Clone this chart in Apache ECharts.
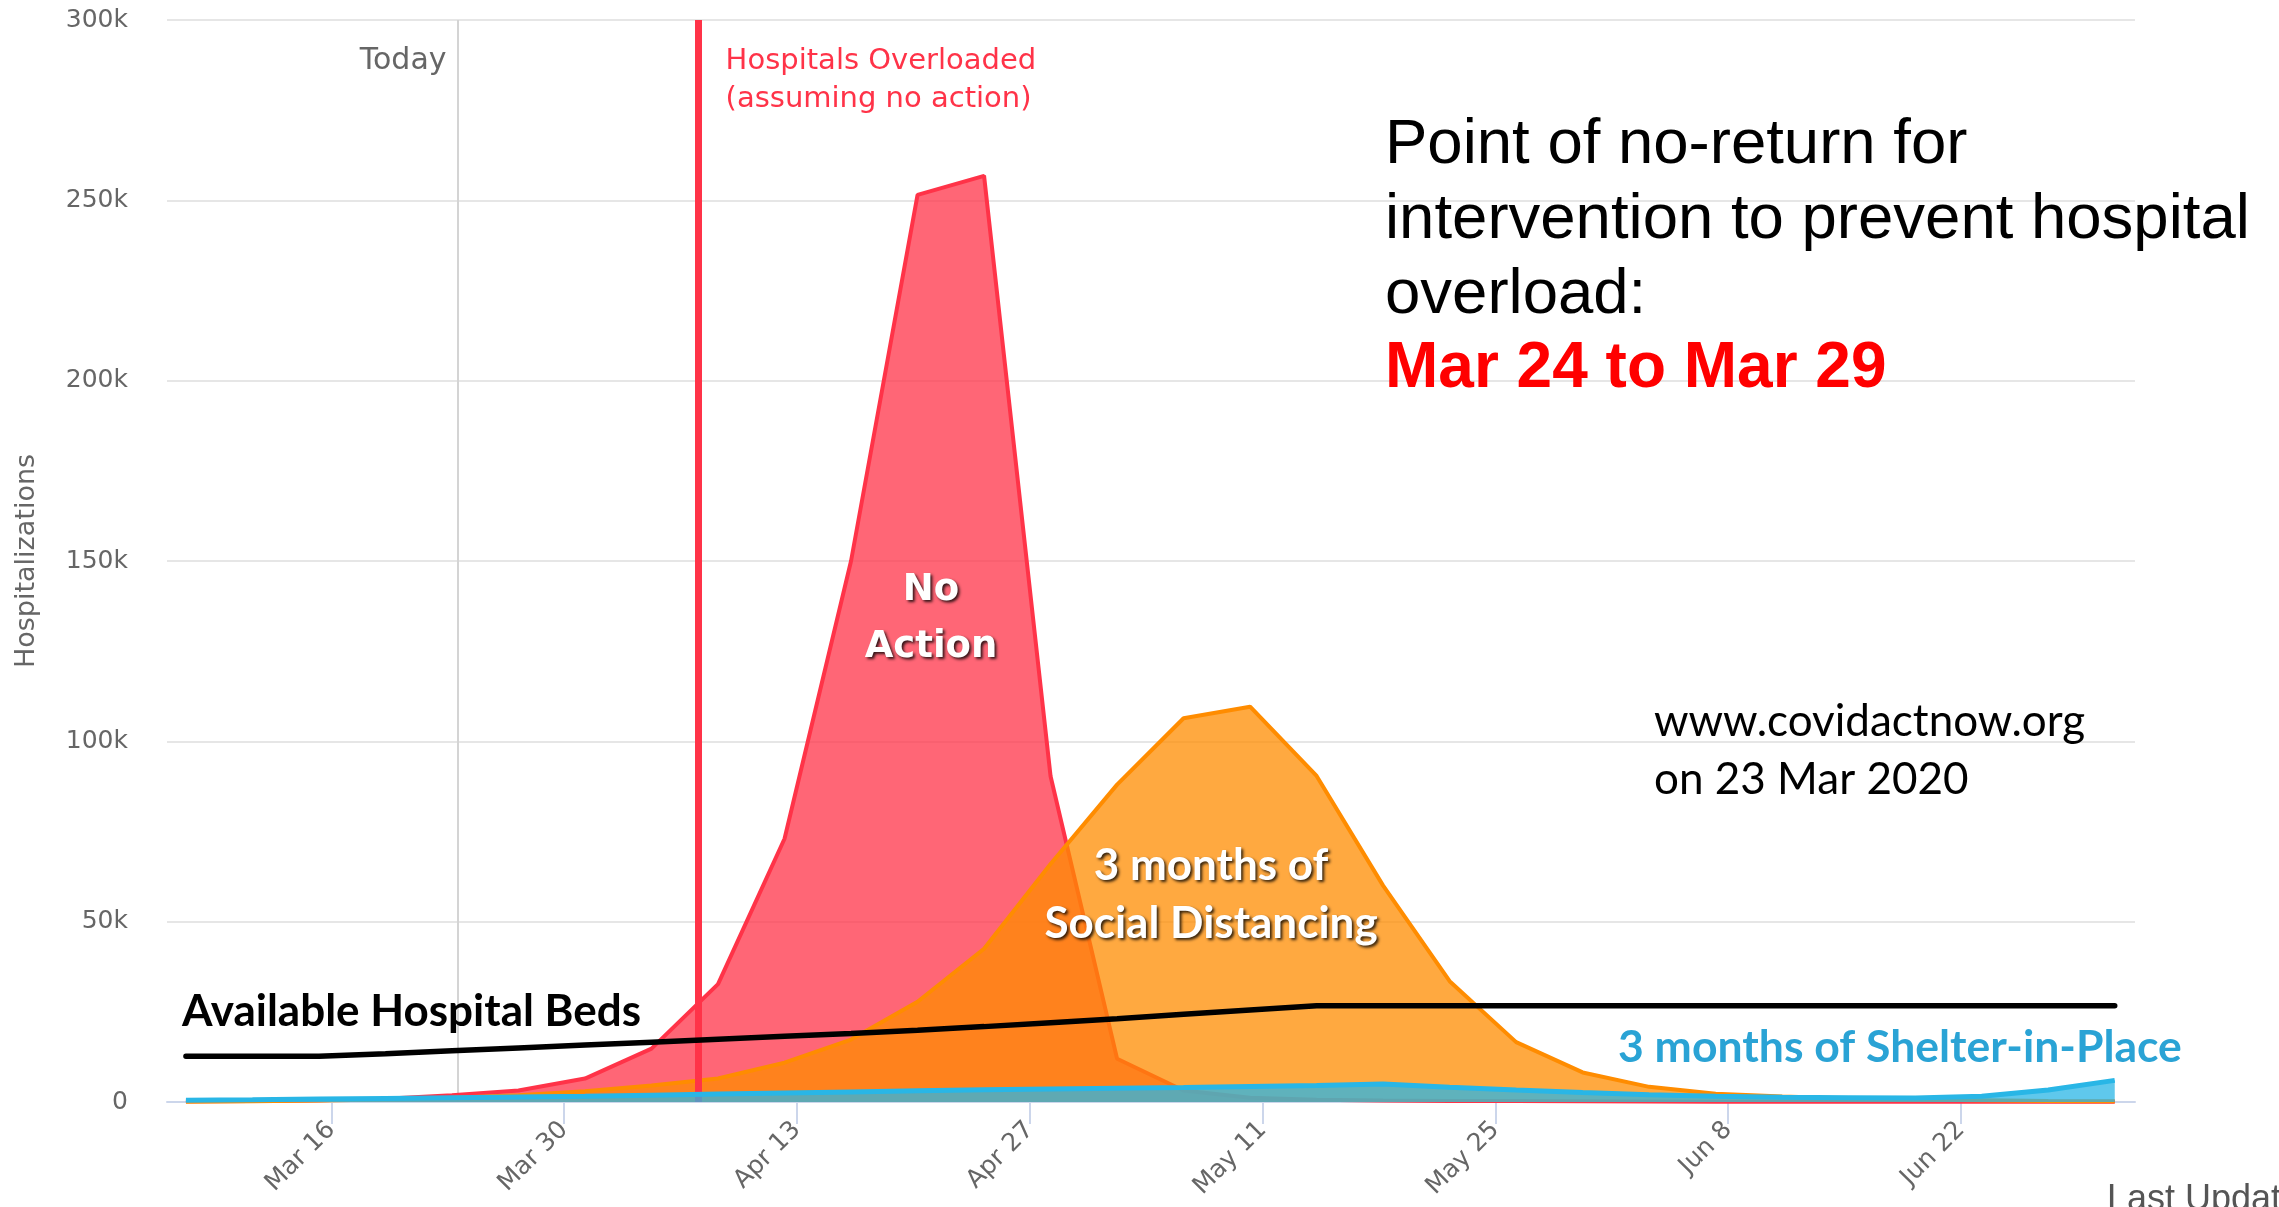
<!DOCTYPE html>
<html><head><meta charset="utf-8">
<script src="https://cdn.jsdelivr.net/npm/echarts@6/dist/echarts.min.js"></script>
<style>html,body{margin:0;padding:0;background:#fff;overflow:hidden}#c{width:2279px;height:1207px}</style>
</head><body><div id="c"></div>
<script>
// ---- data ----
const dates = ['2020-03-07','2020-03-11','2020-03-15','2020-03-19','2020-03-23','2020-03-27','2020-03-31',
  '2020-04-04','2020-04-08','2020-04-12','2020-04-16','2020-04-20','2020-04-24','2020-04-28',
  '2020-05-02','2020-05-06','2020-05-10','2020-05-14','2020-05-18','2020-05-22','2020-05-26','2020-05-30',
  '2020-06-03','2020-06-07','2020-06-11','2020-06-15','2020-06-19','2020-06-23','2020-06-27','2020-07-01'];
const noAction = [200,300,500,900,1900,3200,6500,14800,32700,73000,150000,251500,256800,90300,
  12000,3200,1200,600,400,300,250,200,150,100,100,100,100,100,100,100];
const socialDistancing = [100,200,400,700,1200,1900,3000,4600,6500,10900,17300,27800,42500,66000,
  88000,106400,109600,90400,60000,33500,16600,8200,4200,2300,1500,1000,700,500,300,200];
const shelterInPlace = [500,600,800,1000,1200,1400,1600,1900,2200,2500,2800,3100,3400,3600,
  3800,4000,4300,4600,5000,4100,3300,2600,2000,1600,1300,1200,1100,1600,3300,6000];
const hospitalBeds = [12700,12700,12700,13400,14200,15000,15800,16600,17400,18200,19000,19900,20900,22000,
  23100,24300,25500,26700,26700,26700,26700,26700,26700,26700,26700,26700,26700,26700,26700,26700];
const tickDates = ['2020-03-16','2020-03-30','2020-04-13','2020-04-27','2020-05-11','2020-05-25','2020-06-08','2020-06-22'];
const tickLabels = ['Mar 16','Mar 30','Apr 13','Apr 27','May 11','May 25','Jun 8','Jun 22'];
const yTicks = [0,50000,100000,150000,200000,250000,300000];
const yTickLabels = ['0','50k','100k','150k','200k','250k','300k'];
const pointTime = 'T06:00:00Z';
const todayDate = '2020-03-23T14:00:00Z';
const overloadDate = '2020-04-07T02:00:00Z';
const xRange = ['2020-03-06T02:40:00Z','2020-07-02T11:15:00Z'];

// ---- helpers ----
const base = Date.parse('2020-03-16T00:00:00Z');
const dayOf = s => (Date.parse(s.length === 10 ? s + 'T00:00:00Z' : s) - base) / 864e5;
const pts = arr => dates.map((d, i) => [dayOf(d + pointTime), arr[i]]);
const tickDays = tickDates.map(dayOf);

const chart = echarts.init(document.getElementById('c'), null, {renderer: 'canvas'});
const gray = '#666666';
const sans = 'DejaVu Sans';

const option = {
  animation: false,
  backgroundColor: '#ffffff',
  grid: {left: 167, right: 144, top: 20, bottom: 105, containLabel: false},
  xAxis: {
    type: 'value',
    min: dayOf(xRange[0]), max: dayOf(xRange[1]),
    splitLine: {show: false},
    axisLine: {show: true, lineStyle: {color: '#ccd6eb', width: 2}},
    axisTick: {show: true, customValues: tickDays, length: 22, lineStyle: {color: '#ccd6eb', width: 2}},
    axisLabel: {
      show: true, customValues: tickDays, rotate: 45, margin: 24,
      color: gray, fontSize: 25, fontFamily: sans,
      formatter: v => { const i = tickDays.findIndex(t => Math.abs(t - v) < 0.01); return i >= 0 ? tickLabels[i] : ''; }
    }
  },
  yAxis: {
    type: 'value', min: 0, max: 300000, interval: 50000,
    name: 'Hospitalizations', nameLocation: 'middle', nameGap: 127, nameRotate: 90,
    nameTextStyle: {color: gray, fontSize: 27, fontFamily: sans},
    axisLine: {show: false}, axisTick: {show: false},
    splitLine: {lineStyle: {color: '#e6e6e6', width: 2}},
    axisLabel: {
      margin: 39, color: gray, fontSize: 25, fontFamily: sans,
      formatter: v => { const i = yTicks.indexOf(v); return i >= 0 ? yTickLabels[i] : ''; }
    }
  },
  series: [
    {
      name: 'No Action', type: 'line', data: pts(noAction), symbol: 'none', z: 2,
      lineStyle: {color: '#ff3348', width: 4}, areaStyle: {color: '#ff3348', opacity: 0.75},
      markLine: {
        silent: true, z: 1, symbol: ['none', 'none'], label: {show: false},
        lineStyle: {color: '#d4d4d4', width: 2, type: 'solid'},
        data: [{xAxis: dayOf(todayDate)}]
      }
    },
    {
      name: '3 months of Social Distancing', type: 'line', data: pts(socialDistancing), symbol: 'none', z: 3,
      lineStyle: {color: '#ff8c00', width: 4}, areaStyle: {color: '#ff8c00', opacity: 0.75},
      markLine: {
        silent: true, z: 3.5, symbol: ['none', 'none'], label: {show: false},
        lineStyle: {color: '#ff3348', width: 7, type: 'solid'},
        data: [{xAxis: dayOf(overloadDate)}]
      }
    },
    {
      name: '3 months of Shelter-in-Place', type: 'line', data: pts(shelterInPlace), symbol: 'none', z: 4,
      lineStyle: {color: '#29b6e6', width: 5}, areaStyle: {color: '#29b6e6', opacity: 0.75}
    },
    {
      name: 'Available Hospital Beds', type: 'line', data: pts(hospitalBeds), symbol: 'none', z: 5,
      lineStyle: {color: '#000000', width: 5.5, cap: 'round'}
    }
  ]
};
chart.setOption(option);

const todayX = chart.convertToPixel({gridIndex: 0}, [dayOf(todayDate), 0])[0];
const overX = chart.convertToPixel({gridIndex: 0}, [dayOf(overloadDate), 0])[0];
const shadow = {textShadowColor: 'rgba(0,0,0,0.8)', textShadowBlur: 3, textShadowOffsetX: 2, textShadowOffsetY: 2};
const txt = (x, y, text, font, fill, align, extra) => ({
  type: 'text', x: x, y: y, silent: true, z: 100,
  style: Object.assign({text: text, font: font, fill: fill, align: align || 'left', verticalAlign: 'middle'}, extra || {})
});

chart.setOption({
  graphic: [
    txt(todayX - 11, 61, 'Today', '30px "DejaVu Sans"', gray, 'right'),
    txt(overX + 27, 61, 'Hospitals Overloaded', '29px "DejaVu Sans"', '#ff3348'),
    txt(overX + 27, 99, '(assuming no action)', '29px "DejaVu Sans"', '#ff3348'),
    txt(1385, 145, 'Point of no-return for', '63.5px "Liberation Sans"', '#000'),
    txt(1385, 220, 'intervention to prevent hospital', '63.5px "Liberation Sans"', '#000'),
    txt(1385, 295, 'overload:', '63.5px "Liberation Sans"', '#000'),
    txt(1385, 369, 'Mar 24 to Mar 29', 'bold 64px "Liberation Sans"', '#ff0000'),
    txt(1654, 722, 'www.covidactnow.org', '44px Lato', '#000'),
    txt(1654, 780, 'on 23 Mar 2020', '44px Lato', '#000'),
    txt(931, 590, 'No', 'bold 37px "DejaVu Sans"', '#fff', 'center', shadow),
    txt(931, 647, 'Action', 'bold 37px "DejaVu Sans"', '#fff', 'center', shadow),
    txt(1211, 866, '3 months of', 'bold 44px Lato', '#fff', 'center', shadow),
    txt(1211, 924, 'Social Distancing', 'bold 44px Lato', '#fff', 'center', shadow),
    txt(182, 1012, 'Available Hospital Beds', 'bold 44px Lato', '#000'),
    txt(1618, 1048, '3 months of Shelter-in-Place', 'bold 44.5px Lato', '#2aa3d5'),
    {type: 'text', x: 2107, y: 1182, silent: true, z: 100,
     style: {text: 'Last Updated', font: '36px "Liberation Sans"', fill: '#555', align: 'left', verticalAlign: 'top'}}
  ]
});
</script></body></html>
